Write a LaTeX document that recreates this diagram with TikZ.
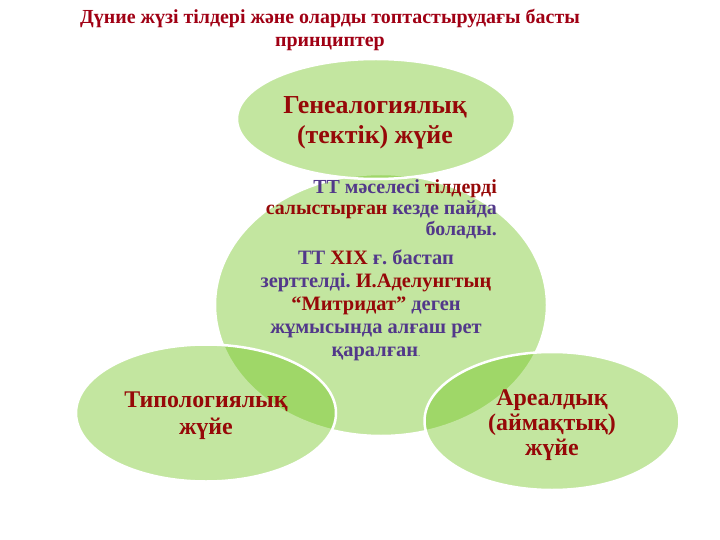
\documentclass[tikz,border=0pt]{standalone}
\usepackage{fontspec}
\setmainfont{Liberation Serif}
\usetikzlibrary{positioning, shapes.geometric}

\definecolor{leafgreen}{RGB}{105,193,18}
\definecolor{titlered}{RGB}{160,0,20}
\definecolor{labelred}{RGB}{150,8,8}
\definecolor{textpurple}{RGB}{82,56,138}

\tikzset{
    leaf/.style={draw=white, line width=2.5bp, fill=leafgreen, fill opacity=0.4, ellipse},
    leaftext/.style={inner sep=0pt, align=center, text=labelred,
        font=\bfseries\fontsize{24}{25}\selectfont},
    para/.style={inner sep=0pt, text=textpurple, font=\bfseries\fontsize{20}{21.5}\selectfont}
}
\newcommand{\rd}[1]{\textcolor{labelred}{#1}}
\frenchspacing

\begin{document}
\begin{tikzpicture}[x=1bp, y=-1bp]
    \useasboundingbox (0,0) rectangle (720,540);
    % Title
    \node[align=center, text=titlered, font=\bfseries\fontsize{20}{24}\selectfont] (title) at (330,30)
        {Дүние жүзі тілдері және оларды топтастырудағы басты\\принциптер};

    % Centre circle and its text
    \node[leaf, minimum width=332bp, minimum height=262bp] (centre) at (381,305) {};
    \node[para, align=right, anchor=north east] (first) at (497,179)
        {ТТ мәселесі \rd{тілдерді}\\\rd{салыстырған} кезде пайда\\болады.};
    \node[para, align=center, anchor=north, font=\bfseries\fontsize{20.5}{23}\selectfont] (second) at (376,250)
        {ТТ \rd{XIX} ғ. бастап\\зерттелді. \rd{И.Аделунгтың}\\\rd{“Митридат”} деген\\жұмысында алғаш рет\\қаралған{\mdseries\small .}};

    % Systems
    \node[leaf, minimum width=278bp, minimum height=120bp] (genealogy) at (376,119) {};
    \node[leaf, minimum width=260bp, minimum height=137bp] (typology) at (206,413) {};
    \node[leaf, minimum width=255bp, minimum height=138bp] (areal) at (552,421) {};

    \node[leaftext, font=\bfseries\fontsize{26}{30}\selectfont] (genealogy text) at ([xshift=-1bp, yshift=-4bp]genealogy.center)
        {Генеалогиялық\\(тектік) жүйе};
    \node[leaftext, font=\bfseries\fontsize{24}{27}\selectfont] (typology text) at ([yshift=-3bp]typology.center)
        {Типологиялық\\жүйе};
    \node[leaftext] (areal text) at ([yshift=-4bp]areal.center)
        {Ареалдық\\(аймақтық)\\жүйе};
\end{tikzpicture}
\end{document}
